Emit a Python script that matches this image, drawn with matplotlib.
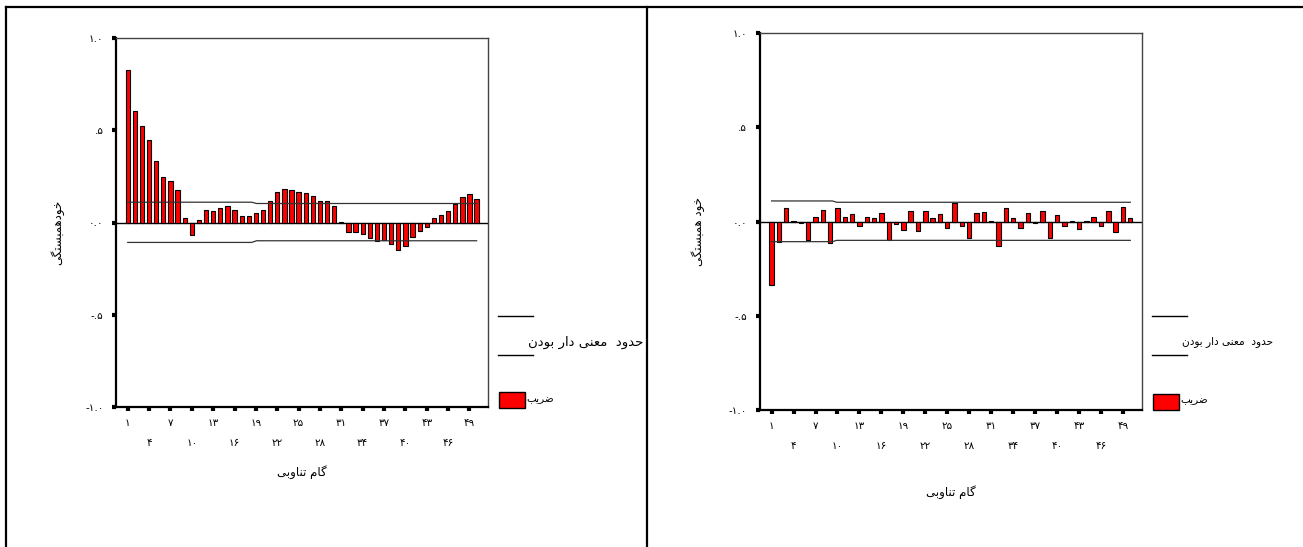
import numpy as np
import matplotlib
matplotlib.use('Agg')
import matplotlib.pyplot as plt
from matplotlib.lines import Line2D
from matplotlib.patches import Rectangle

plt.rcParams['font.family'] = ['DejaVu Sans']

# ---- data ----
lags = np.arange(1, 51)

acf_left = [0.825, 0.602, 0.524, 0.447, 0.335, 0.245, 0.223, 0.175, 0.027, -0.067,
            0.013, 0.068, 0.061, 0.077, 0.090, 0.068, 0.034, 0.034, 0.049, 0.068,
            0.119, 0.168, 0.182, 0.175, 0.168, 0.160, 0.141, 0.119, 0.119, 0.090,
            0.005, -0.050, -0.052, -0.065, -0.086, -0.101, -0.094, -0.114, -0.150, -0.130,
            -0.079, -0.045, -0.027, 0.022, 0.041, 0.061, 0.099, 0.139, 0.153, 0.126]

acf_right = [-0.336, -0.107, 0.074, 0.002, -0.009, -0.100, 0.026, 0.062, -0.114, 0.069,
             0.026, 0.040, -0.025, 0.026, 0.019, 0.047, -0.097, -0.011, -0.046, 0.054,
             -0.053, 0.054, 0.018, 0.040, -0.032, 0.097, -0.025, -0.086, 0.047, 0.053,
             0.005, -0.128, 0.069, 0.019, -0.037, 0.047, -0.009, 0.054, -0.086, 0.033,
             -0.025, 0.005, -0.039, 0.001, 0.026, -0.025, 0.054, -0.058, 0.076, 0.019]

conf_lags_left = [1, 18.4, 19.1, 50]
upper_left = [0.110, 0.110, 0.103, 0.103]
lower_left = [-0.108, -0.108, -0.099, -0.099]

conf_lags_right = [1, 9.3, 9.9, 50]
upper_right = [0.109, 0.109, 0.102, 0.102]
lower_right = [-0.107, -0.107, -0.100, -0.100]

xtick_vals = list(range(1, 50, 3))
ytick_vals = [1.0, 0.5, 0.0, -0.5, -1.0]
ytick_labels = ['۱.۰', '.۵', '۰.۰', '-.۵', '-۱.۰']

ylabel_left = 'خودهمبستگی'
ylabel_right = 'خود همبستگی'
xlabel_txt = 'گام تناوبی'
conf_txt = 'حدود  معنی دار بودن'
coef_txt = 'ضریب'

# ---- simple persian shaping (matplotlib has no bidi / joining) ----
FORMS = {  # iso, fin, ini, med
    'ا': (0xFE8D, 0xFE8E, None, None),
    'ب': (0xFE8F, 0xFE90, 0xFE91, 0xFE92),
    'ت': (0xFE95, 0xFE96, 0xFE97, 0xFE98),
    'ح': (0xFEA1, 0xFEA2, 0xFEA3, 0xFEA4),
    'خ': (0xFEA5, 0xFEA6, 0xFEA7, 0xFEA8),
    'د': (0xFEA9, 0xFEAA, None, None),
    'ر': (0xFEAD, 0xFEAE, None, None),
    'س': (0xFEB1, 0xFEB2, 0xFEB3, 0xFEB4),
    'ض': (0xFEBD, 0xFEBE, 0xFEBF, 0xFEC0),
    'ع': (0xFEC9, 0xFECA, 0xFECB, 0xFECC),
    'م': (0xFEE1, 0xFEE2, 0xFEE3, 0xFEE4),
    'ن': (0xFEE5, 0xFEE6, 0xFEE7, 0xFEE8),
    'ه': (0xFEE9, 0xFEEA, 0xFEEB, 0xFEEC),
    'و': (0xFEED, 0xFEEE, None, None),
    'ی': (0xFBFC, 0xFBFD, 0xFBFE, 0xFBFF),
    'گ': (0xFB92, 0xFB93, 0xFB94, 0xFB95),
}


def shape(s):
    out = []
    for i, c in enumerate(s):
        if c not in FORMS:
            out.append(c)
            continue
        prev = s[i - 1] if i > 0 else ''
        nxt = s[i + 1] if i + 1 < len(s) else ''
        join_prev = prev in FORMS and FORMS[prev][2] is not None
        join_next = FORMS[c][2] is not None and nxt in FORMS
        f = FORMS[c]
        if join_prev and join_next:
            code = f[3]
        elif join_prev:
            code = f[1]
        elif join_next:
            code = f[2]
        else:
            code = f[0]
        out.append(chr(code))
    return ''.join(out)[::-1]


def fa_num(n):
    return str(n).translate(str.maketrans('0123456789', '۰۱۲۳۴۵۶۷۸۹'))


W, H = 1303, 547
fig = plt.figure(figsize=(W / 100, H / 100), dpi=100)


def px(x, y):
    return x / W, 1 - y / H


def draw_panel(rect, acf, clags, up, lo, ylab, ylab_x, xlab_y):
    ax = fig.add_axes(rect)
    ax.bar(lags, acf, width=0.6, color='#ff0000', edgecolor='black', linewidth=0.8, zorder=3)
    ax.axhline(0, color='black', linewidth=1.0, zorder=2)
    ax.plot(clags, up, color='#333333', linewidth=0.9, zorder=4)
    ax.plot(clags, lo, color='#333333', linewidth=0.9, zorder=4)
    ax.set_xlim(-0.65, 51.6)
    ax.set_ylim(-1.0, 1.0)
    ax.set_yticks(ytick_vals)
    ax.set_yticklabels(ytick_labels, fontsize=7.5)
    ax.set_xticks(xtick_vals)
    ax.set_xticklabels([fa_num(v) if k % 2 == 0 else '\n\n' + fa_num(v)
                        for k, v in enumerate(xtick_vals)], fontsize=7.5, linespacing=1.0)
    ax.tick_params(axis='both', direction='out', length=3, width=3, color='black', pad=5)
    ax.tick_params(axis='y', pad=6)
    for side in ['left', 'bottom']:
        ax.spines[side].set_linewidth(1.6)
        ax.spines[side].set_color('black')
    for side in ['top', 'right']:
        ax.spines[side].set_linewidth(1.0)
        ax.spines[side].set_color('#444444')
    fig.text(*px(ylab_x, 232), shape(ylab), rotation=90, ha='center', va='center', fontsize=8.5)
    cx = (rect[0] + rect[2] / 2)
    fig.text(cx, xlab_y, shape(xlabel_txt), ha='center', va='center', fontsize=8.5)
    return ax


draw_panel([116 / W, 1 - 407 / H, 372 / W, 369 / H], acf_left, conf_lags_left,
           upper_left, lower_left, ylabel_left, 57, 1 - 472 / H)
draw_panel([759.5 / W, 1 - 410 / H, 382.5 / W, 377 / H], acf_right, conf_lags_right,
           upper_right, lower_right, ylabel_right, 698, 1 - 492 / H)

# legends
for (lx, tx, tfs, py, ty) in [(498, 528, 9.5, 392, 399), (1152, 1182, 7.6, 394, 400)]:
    for ly in (316, 355):
        x0, y0 = px(lx, ly)
        x1, _ = px(lx + 35, ly)
        fig.add_artist(Line2D([x0, x1], [y0, y0], color='black', linewidth=1.0))
    fig.text(*px(tx, 342), shape(conf_txt), ha='left', va='center', fontsize=tfs)
    rx, ry = px(lx + 1, py + 16)
    fig.add_artist(Rectangle((rx, ry), 26 / W, 16 / H, facecolor='#ff0000',
                             edgecolor='black', linewidth=1.0))
    fig.text(*px(lx + 28, ty), shape(coef_txt), ha='left', va='center', fontsize=7.5)

# outer frame
frame_kw = dict(color='black', linewidth=1.6)
fig.add_artist(Line2D([6 / W, 1.0], [1 - 7 / H, 1 - 7 / H], **frame_kw))
fig.add_artist(Line2D([6 / W, 6 / W], [0, 1 - 7 / H], **frame_kw))
fig.add_artist(Line2D([647 / W, 647 / W], [0, 1 - 7 / H], **frame_kw))

fig.savefig('out.png', dpi=100, facecolor='white')
